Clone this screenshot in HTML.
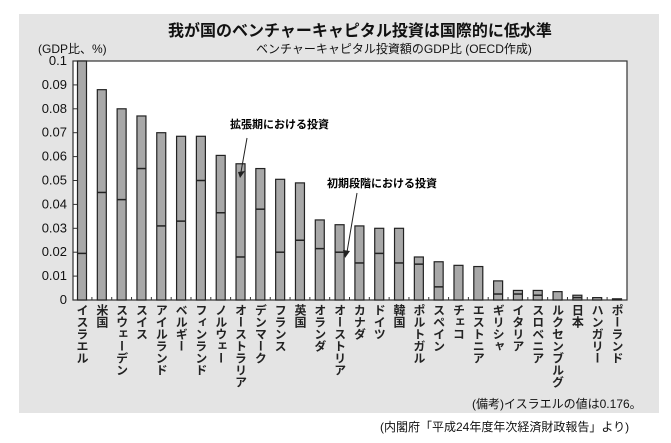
<!DOCTYPE html>
<html><head><meta charset="utf-8"><style>
body{margin:0;background:#fff;width:671px;height:443px;overflow:hidden;font-family:"Liberation Sans","Noto Sans CJK JP",sans-serif}
.t{position:absolute;white-space:nowrap;color:#111}
.lab{position:absolute;top:304px;writing-mode:vertical-rl;font-size:12px;font-weight:bold;color:#222;letter-spacing:0px;line-height:12px}
</style></head><body>
<div style="position:absolute;left:19px;top:14px;width:640px;height:399px;background:#e4e4e4"></div>
<div class="t" style="left:168px;top:17px;font-size:16px;font-weight:bold">我が国のベンチャーキャピタル投資は国際的に低水準</div>
<div class="t" style="left:38px;top:40px;font-size:12px">(GDP比、%)</div>
<div class="t" style="left:256px;top:40px;font-size:12px">ベンチャーキャピタル投資額のGDP比 (OECD作成)</div>
<svg style="position:absolute;left:0;top:0" width="671" height="443">
<rect x="73" y="61" width="554" height="239" fill="#fff" stroke="#333" stroke-width="1.2"/>
<g font-family="Liberation Sans,sans-serif" font-size="13" text-anchor="end" fill="#111" id="yt"></g>
<g id="bars"></g>
<line x1="247" y1="138" x2="241" y2="172" stroke="#222"/>
<polygon points="238,172 245,171 240,178" fill="#222"/>
<line x1="357" y1="193" x2="347" y2="252" stroke="#222"/>
<polygon points="343,250 350,251 345,258" fill="#222"/>
<text x="230" y="128" font-size="11" font-weight="bold" font-family="Liberation Sans,Noto Sans CJK JP,sans-serif">拡張期における投資</text>
<text x="327" y="187" font-size="11" font-weight="bold" font-family="Liberation Sans,Noto Sans CJK JP,sans-serif">初期段階における投資</text>
</svg>
<div id="labs"></div>
<div class="t" style="left:472px;top:395px;font-size:12px">(備考)イスラエルの値は0.176。</div>
<div class="t" style="left:380px;top:418px;font-size:12px">(内閣府「平成24年度年次経済財政報告」より)</div>
<script>
var d=[["イスラエル",.1,.0195],["米国",.088,.045],["スウェーデン",.080,.042],["スイス",.077,.055],["アイルランド",.070,.031],["ベルギー",.0685,.033],["フィンランド",.0685,.050],["ノルウェー",.0605,.0365],["オーストラリア",.057,.018],["デンマーク",.055,.038],["フランス",.0505,.020],["英国",.049,.025],["オランダ",.0335,.0215],["オーストリア",.0315,.020],["カナダ",.031,.0155],["ドイツ",.030,.0195],["韓国",.030,.0155],["ポルトガル",.018,.015],["スペイン",.016,.0055],["チェコ",.0145,0],["エストニア",.014,0],["ギリシャ",.008,.0025],["イタリア",.004,.0025],["スロベニア",.004,.002],["ルクセンブルグ",.0035,0],["日本",.002,.001],["ハンガリー",.001,0],["ポーランド",.0005,0]];
var n=d.length,x0=82,x1=617,p=(x1-x0)/(n-1),Y=function(v){return 300-v*2390};
var s="",l="",yt="";
for(var i=0;i<=10;i++){var v=i/100,y=Y(v);yt+='<text x="67" y="'+(y+4)+'">'+(i==0?"0":i==10?"0.1":v.toFixed(2))+'</text><line x1="73" x2="77" y1="'+y+'" y2="'+y+'" stroke="#333"/>';}
document.getElementById("yt").innerHTML=yt;
d.forEach(function(r,i){var c=x0+i*p,t=Y(r[1]);
s+='<rect x="'+(c-4.5)+'" y="'+t+'" width="9" height="'+(300-t)+'" fill="#a8a8a8" stroke="#222" stroke-width="1.2"/>';
if(r[2])s+='<line x1="'+(c-4.5)+'" x2="'+(c+4.5)+'" y1="'+Y(r[2])+'" y2="'+Y(r[2])+'" stroke="#222" stroke-width="1.5"/>';
if(i<n-1)s+='<line x1="'+(c+p/2)+'" x2="'+(c+p/2)+'" y1="297" y2="300" stroke="#333"/>';
l+='<div class="lab" style="left:'+(c-6)+'px">'+r[0]+'</div>';});
document.getElementById("bars").innerHTML=s;document.getElementById("labs").innerHTML=l;
</script>
</body></html>
